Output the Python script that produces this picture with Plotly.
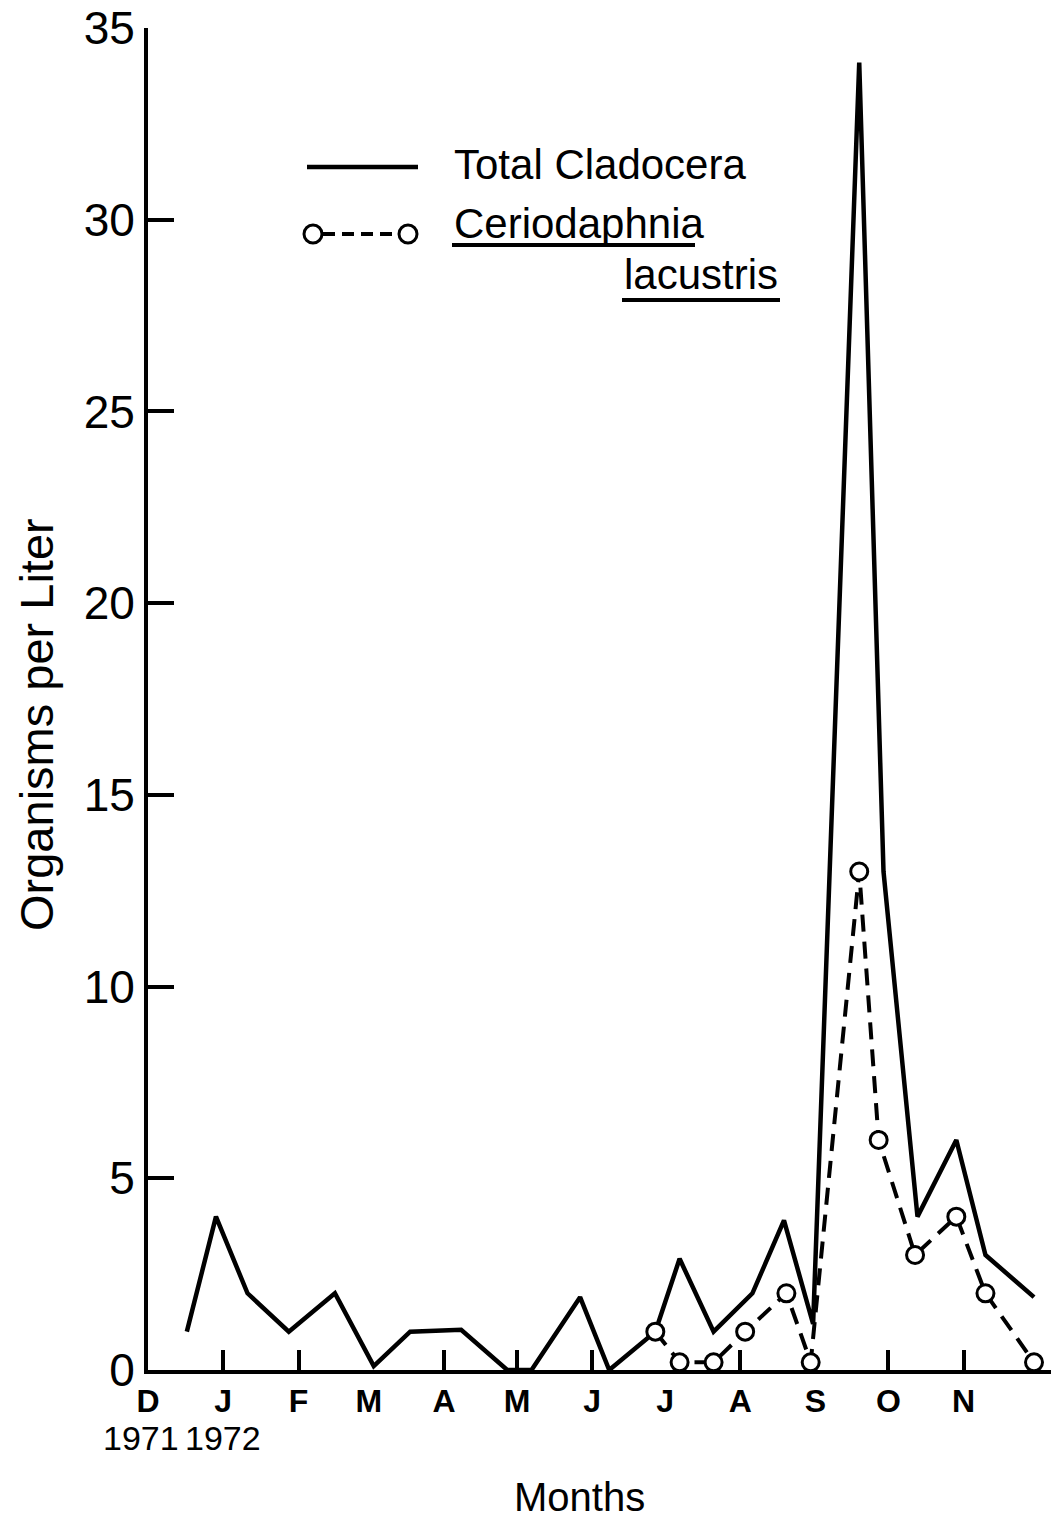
import plotly.graph_objects as go

# Sampling dates and densities (organisms per liter)
total_dates = [
    "1971-12-17", "1971-12-29", "1972-01-11", "1972-01-28", "1972-02-16",
    "1972-03-03", "1972-03-18", "1972-04-08", "1972-04-27", "1972-05-07",
    "1972-05-27", "1972-06-08", "1972-06-27", "1972-07-07", "1972-07-21",
    "1972-08-06", "1972-08-19", "1972-08-31", "1972-09-19", "1972-09-29",
    "1972-10-13", "1972-10-29", "1972-11-10", "1972-11-30",
]
total_cladocera = [
    1.0, 4.0, 2.0, 1.0, 2.0,
    0.1, 1.0, 1.05, 0.0, 0.0,
    1.9, 0.0, 1.0, 2.9, 1.0,
    2.0, 3.9, 1.2, 34.1, 13.0,
    4.0, 6.0, 3.0, 1.9,
]

cerio_dates = [
    "1972-06-27", "1972-07-07", "1972-07-21", "1972-08-03", "1972-08-20",
    "1972-08-30", "1972-09-19", "1972-09-27", "1972-10-12", "1972-10-29",
    "1972-11-10", "1972-11-30",
]
ceriodaphnia = [1.0, 0.2, 0.2, 1.0, 2.0, 0.2, 13.0, 6.0, 3.0, 4.0, 2.0, 0.2]

# Month axis
month_starts = [
    "1971-12-01", "1972-01-01", "1972-02-01", "1972-03-01", "1972-04-01",
    "1972-05-01", "1972-06-01", "1972-07-01", "1972-08-01", "1972-09-01",
    "1972-10-01", "1972-11-01",
]
month_labels = ["D", "J", "F", "M", "A", "M", "J", "J", "A", "S", "O", "N"]
tick_mark_months = [
    "1972-01-01", "1972-02-01", "1972-04-01", "1972-05-01",
    "1972-06-01", "1972-08-01", "1972-10-01", "1972-11-01",
]
y_ticks = [0, 5, 10, 15, 20, 25, 30, 35]

W, H = 1051, 1518
L, R, T, B = 148, 0, 28, 148
X_RANGE = ["1971-12-01", "1972-12-07"]
FONT = "Liberation Sans, Arial, sans-serif"
INK = "black"


def px(xp):
    return (xp - L) / (W - L - R)


def py(yp):
    return (H - B - yp) / (H - T - B)


fig = go.Figure()

fig.add_trace(go.Scatter(
    x=total_dates, y=total_cladocera, mode="lines",
    line=dict(color=INK, width=4.5), name="Total Cladocera",
    showlegend=False, cliponaxis=False,
))
fig.add_trace(go.Scatter(
    x=cerio_dates, y=ceriodaphnia, mode="lines+markers",
    line=dict(color=INK, width=4, dash="17px,10px"),
    marker=dict(symbol="circle", size=17, color="white",
                line=dict(color=INK, width=3)),
    name="Ceriodaphnia lacustris", showlegend=False, cliponaxis=False,
))

fig.update_layout(
    width=W, height=H,
    margin=dict(l=L, r=R, t=T, b=B, pad=0),
    paper_bgcolor="white", plot_bgcolor="white",
    font=dict(family=FONT, color=INK),
    showlegend=False,
    xaxis=dict(
        type="date", range=X_RANGE,
        tickmode="array", tickvals=month_starts,
        ticktext=["<b>%s</b>" % m for m in month_labels],
        ticks="", showgrid=False, zeroline=False,
        showline=True, linecolor=INK, linewidth=4,
        tickfont=dict(size=32, family=FONT, color=INK),
        layer="below traces",
    ),
    xaxis2=dict(
        type="date", range=X_RANGE, overlaying="x", anchor="y", side="bottom",
        tickmode="array", tickvals=tick_mark_months,
        ticks="inside", ticklen=20, tickwidth=4, tickcolor=INK,
        showticklabels=False, showgrid=False, zeroline=False, showline=False,
        layer="below traces",
    ),
    yaxis=dict(
        range=[0, 35], tickmode="array", tickvals=y_ticks,
        ticks="inside", ticklen=26, tickwidth=4, tickcolor=INK,
        showgrid=False, zeroline=False,
        showline=True, linecolor=INK, linewidth=4,
        tickfont=dict(size=46, family=FONT, color=INK),
        ticklabelstandoff=0,
        layer="below traces",
    ),
)

# Invisible trace so the tick-mark axis is laid out
fig.add_trace(go.Scatter(x=[X_RANGE[0]], y=[0], xaxis="x2", mode="markers",
                         marker=dict(opacity=0), hoverinfo="skip",
                         showlegend=False))

annotations = [
    dict(text="Organisms per Liter", x=px(36), y=py(725), textangle=-90,
         font=dict(size=47)),
    dict(text="Months", x=px(579), y=py(1497), font=dict(size=40)),
    dict(text="1971", x=px(141), y=py(1438), font=dict(size=34)),
    dict(text="1972", x=px(223), y=py(1438), font=dict(size=34)),
    dict(text="Total Cladocera", x=px(452), y=py(165), xanchor="left",
         font=dict(size=42)),
    dict(text="Ceriodaphnia", x=px(452), y=py(224), xanchor="left",
         font=dict(size=42)),
    dict(text="lacustris", x=px(622), y=py(275), xanchor="left",
         font=dict(size=42)),
]
for a in annotations:
    a.setdefault("xanchor", "center")
    fig.add_annotation(xref="paper", yref="paper", yanchor="middle",
                       showarrow=False, **a)

# Legend keys and underlines
shapes = [
    dict(type="line", x0=px(307), x1=px(418), y0=py(167), y1=py(167),
         line=dict(color=INK, width=4.5)),
    dict(type="line", x0=px(323), x1=px(398), y0=py(234), y1=py(234),
         line=dict(color=INK, width=4, dash="12px,7px")),
    dict(type="circle", x0=px(304), x1=px(322), y0=py(243), y1=py(225),
         line=dict(color=INK, width=3), fillcolor="white"),
    dict(type="circle", x0=px(399), x1=px(417), y0=py(243), y1=py(225),
         line=dict(color=INK, width=3), fillcolor="white"),
    dict(type="line", x0=px(452), x1=px(695), y0=py(245), y1=py(245),
         line=dict(color=INK, width=4)),
    dict(type="line", x0=px(622), x1=px(780), y0=py(300), y1=py(300),
         line=dict(color=INK, width=4)),
]
for s in shapes:
    fig.add_shape(xref="paper", yref="paper", **s)

fig.write_html("out.html")
